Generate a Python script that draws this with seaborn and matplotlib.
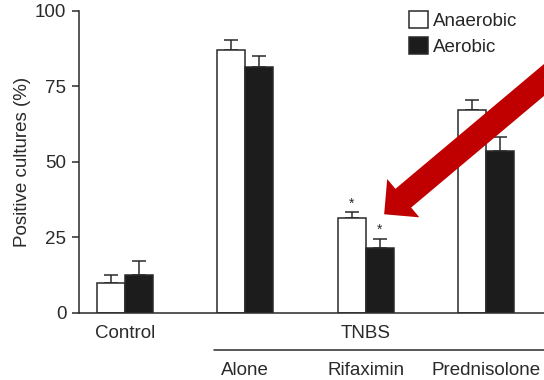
import matplotlib
matplotlib.use("Agg")
import matplotlib.pyplot as plt
import matplotlib.transforms as mtransforms
import numpy as np
import pandas as pd
import seaborn as sns

# Values
categories = ["Control", "Alone", "Rifaximin", "Prednisolone"]
anaerobic = [9.9, 87.0, 31.3, 67.1]
aerobic = [12.6, 81.5, 21.5, 53.5]
anaerobic_err = [2.5, 3.3, 1.9, 3.3]
aerobic_err = [4.4, 3.5, 2.9, 4.8]
significant = ["Rifaximin"]
group_label = "TNBS"
series = ["Anaerobic", "Aerobic"]

sns.set_theme(style="ticks")
plt.rcParams["font.family"] = ["Liberation Sans", "DejaVu Sans"]

ink = "#2a2a2a"
fs = 13.5

df = pd.DataFrame({
    "group": categories * 2,
    "culture": [series[0]] * len(categories) + [series[1]] * len(categories),
    "value": anaerobic + aerobic,
})

fig = plt.figure(figsize=(5.44, 3.8), dpi=100)
ax = fig.add_axes([0.145, 0.177, 0.855, 0.795])

sns.barplot(data=df, x="group", y="value", hue="culture", order=categories,
            hue_order=series, palette=["white", "#1c1c1c"], width=0.465,
            errorbar=None, edgecolor=ink, linewidth=1.1, ax=ax, zorder=2)

# upper-only error bars at the bar centres
n = len(categories)
bars = ax.patches[:2 * n]
tops = anaerobic + aerobic
errs = anaerobic_err + aerobic_err
xs = [b.get_x() + b.get_width() / 2 for b in bars]
ax.errorbar(xs, tops, yerr=[np.zeros(len(errs)), errs], fmt="none",
            ecolor=ink, elinewidth=1.1, capsize=4.8, capthick=1.1, zorder=1)

# significance stars
for i, cat in enumerate(categories):
    if cat in significant:
        for j in (i, i + n):
            ax.text(xs[j], tops[j] + errs[j] + 0.6, "*", ha="center",
                    va="bottom", fontsize=10, color=ink)

ax.set_ylim(0, 100)
ax.set_xlim(-0.382, 3.48)
ax.set_yticks([0, 25, 50, 75, 100])
ax.set_xticks([])
ax.set_xlabel("")
ax.set_ylabel("Positive cultures (%)", fontsize=fs, color=ink, labelpad=3)
ax.tick_params(axis="y", labelsize=fs, colors=ink, length=5, width=1.1, pad=4)
sns.despine(ax=ax)
for s in ("left", "bottom"):
    ax.spines[s].set_color(ink)
    ax.spines[s].set_linewidth(1.1)

# group labels under the axis
trans = mtransforms.blended_transform_factory(ax.transData, ax.transAxes)
ax.text(0, -0.07, categories[0], transform=trans, ha="center", va="center",
        fontsize=fs, color=ink)
ax.text(2, -0.07, group_label, transform=trans, ha="center", va="center",
        fontsize=fs, color=ink)
ax.plot([0.74, 3.6], [-0.123, -0.123], transform=trans, color=ink,
        lw=1.1, clip_on=False)
for i in range(1, n):
    ax.text(i, -0.19, categories[i], transform=trans, ha="center",
            va="center", fontsize=fs, color=ink)

# legend
handles, labels = ax.get_legend_handles_labels()
ax.legend(handles, labels, loc="upper left", bbox_to_anchor=(0.752, 0.97),
          bbox_transform=fig.transFigure, frameon=False, fontsize=fs,
          handlelength=1.0, handleheight=1.0, handletextpad=0.25,
          labelspacing=0.35, borderpad=0, borderaxespad=0)

# red pointer arrow
ax.annotate("", xy=(2.135, 32.0), xytext=(3.61, 81.4), annotation_clip=False,
            arrowprops=dict(arrowstyle="simple,head_length=0.9,head_width=1.8,tail_width=0.88",
                            mutation_scale=20, color="#c00000", lw=0), zorder=5)

fig.savefig("out.png", dpi=100)
